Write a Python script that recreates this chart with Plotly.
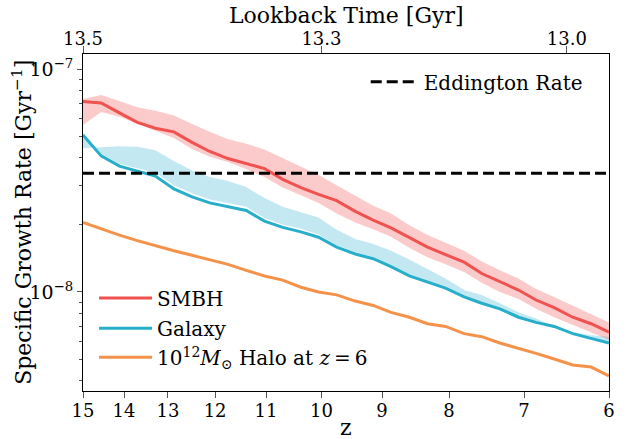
import numpy as np
import plotly.graph_objects as go

# redshift grid
z = [15.00, 14.55, 14.11, 13.69, 13.28, 12.87, 12.48, 12.11, 11.74, 11.38,
     11.03, 10.69, 10.36, 10.05, 9.74, 9.43, 9.14, 8.86, 8.58, 8.31,
     8.05, 7.79, 7.55, 7.31, 7.07, 6.85, 6.63, 6.41, 6.20, 6.00]

# specific growth rates in units of 1e-8 Gyr^-1
smbh = [7.15, 7.05, 6.36, 5.77, 5.43, 5.23, 4.69, 4.27, 3.97, 3.78,
        3.58, 3.20, 2.94, 2.74, 2.57, 2.30, 2.10, 1.94, 1.75, 1.59,
        1.47, 1.36, 1.21, 1.11, 1.02, 0.92, 0.85, 0.77, 0.72, 0.66]
smbh_hi = [7.35, 7.66, 7.20, 6.74, 6.50, 6.20, 5.68, 5.23, 4.85, 4.62,
           4.36, 3.99, 3.64, 3.35, 3.01, 2.70, 2.44, 2.25, 1.99, 1.80,
           1.66, 1.53, 1.37, 1.25, 1.15, 1.03, 0.95, 0.87, 0.80, 0.73]
smbh_lo = [5.62, 6.43, 6.11, 5.68, 5.28, 4.91, 4.38, 4.04, 3.83, 3.56,
           3.28, 2.94, 2.72, 2.51, 2.25, 2.05, 1.91, 1.77, 1.58, 1.43,
           1.33, 1.23, 1.10, 1.00, 0.93, 0.84, 0.77, 0.71, 0.66, 0.61]

galaxy = [5.07, 4.08, 3.67, 3.49, 3.31, 2.90, 2.67, 2.51, 2.42, 2.32,
          2.08, 1.95, 1.86, 1.76, 1.59, 1.48, 1.41, 1.30, 1.18, 1.11,
          1.04, 0.95, 0.89, 0.84, 0.77, 0.73, 0.70, 0.65, 0.62, 0.59]
galaxy_hi = [4.42, 4.47, 4.51, 4.48, 4.32, 3.87, 3.51, 3.28, 3.15, 2.96,
             2.64, 2.41, 2.27, 2.16, 1.90, 1.73, 1.64, 1.53, 1.40, 1.27,
             1.15, 1.02, 0.97, 0.89, 0.81, 0.76, 0.70, 0.66, 0.64, 0.63]
galaxy_lo = [4.96, 4.16, 3.75, 3.58, 3.44, 3.01, 2.77, 2.60, 2.51, 2.41,
             2.15, 2.01, 1.92, 1.81, 1.62, 1.51, 1.43, 1.32, 1.20, 1.12,
             1.06, 0.96, 0.90, 0.85, 0.78, 0.74, 0.71, 0.65, 0.63, 0.59]

halo = [2.05, 1.92, 1.80, 1.70, 1.61, 1.53, 1.46, 1.39, 1.33, 1.25,
        1.18, 1.13, 1.05, 1.00, 0.97, 0.91, 0.87, 0.81, 0.77, 0.72,
        0.70, 0.65, 0.63, 0.59, 0.56, 0.53, 0.50, 0.47, 0.46, 0.42]

eddington = 3.41  # 1e-8 Gyr^-1

z_ticks = [15, 14, 13, 12, 11, 10, 9, 8, 7, 6]
lookback_labels = ["13.5", "13.3", "13.0"]
lookback_z = [15.0, 10.0, 6.48]

UNIT = 1e-8
RED = "#EF524F"
BLUE = "#27AECB"
ORANGE = "#F5924A"
FONT = "DejaVu Serif"

zp1 = np.array(z) + 1.0
s = lambda a: np.array(a) * UNIT

fig = go.Figure()


def band(lo, hi, color):
    fig.add_trace(go.Scatter(x=zp1, y=s(lo), mode="lines", line=dict(width=0),
                             showlegend=False, hoverinfo="skip"))
    fig.add_trace(go.Scatter(x=zp1, y=s(hi), mode="lines", line=dict(width=0),
                             fill="tonexty", fillcolor=color,
                             showlegend=False, hoverinfo="skip"))


band(galaxy_lo, galaxy_hi, "rgba(39,174,203,0.28)")
band(smbh_lo, smbh_hi, "rgba(239,82,79,0.30)")

fig.add_trace(go.Scatter(x=zp1, y=s(smbh), mode="lines", name="SMBH",
                         line=dict(color=RED, width=3), legend="legend"))
fig.add_trace(go.Scatter(x=zp1, y=s(galaxy), mode="lines", name="Galaxy",
                         line=dict(color=BLUE, width=3), legend="legend3"))
fig.add_trace(go.Scatter(x=zp1, y=s(halo), mode="lines",
                         name="10<sup>12</sup><i>M</i><sub>⊙</sub> Halo at <i>z</i>\u2009=\u20096",
                         line=dict(color=ORANGE, width=3), legend="legend4"))
fig.add_trace(go.Scatter(x=[1 + z[0], 1 + z[-1]], y=s([eddington, eddington]),
                         mode="lines", name="Eddington Rate", xaxis="x2",
                         line=dict(color="black", width=3, dash="11px,5px"),
                         legend="legend2"))

xr = [np.log10(1 + z[0]), np.log10(1 + z[-1])]
axis_common = dict(showline=True, linecolor="black", linewidth=1,
                   showgrid=False, zeroline=False, ticks="outside",
                   automargin=False, tickcolor="#555")
TICK_FONT = dict(family=FONT, size=18, color="black")
TITLE_FONT = dict(family=FONT, size=22, color="black")
LEG_FONT = dict(family=FONT, size=20, color="black")

minor_vals = [m * 10.0 ** e for e in (-9, -8) for m in range(2, 10)]


def leg(x, y, iw):
    return dict(x=x, y=y, xanchor="left", yanchor="middle",
                bgcolor="rgba(0,0,0,0)", itemwidth=iw, font=LEG_FONT)


fig.update_layout(
    width=633, height=439,
    margin=dict(l=82.7, r=23.7, t=54.3, b=48.3, pad=0),
    plot_bgcolor="white", paper_bgcolor="white",
    font=dict(family=FONT, size=18, color="black"),
    xaxis=dict(type="log", range=xr, tickmode="array",
               tickvals=[1 + t for t in z_ticks], ticktext=[str(t) for t in z_ticks],
               ticklen=6, ticklabelstandoff=-3, tickfont=TICK_FONT, **axis_common),
    xaxis2=dict(type="log", range=xr, overlaying="x", side="top", anchor="y",
                tickmode="array", tickvals=[1 + t for t in lookback_z],
                ticktext=lookback_labels, ticklen=7, ticklabelstandoff=-6,
                tickfont=TICK_FONT, **axis_common),
    yaxis=dict(type="log", range=[-8.4446, -6.932], tickmode="array",
               tickvals=[1e-8, 1e-7], ticktext=["10<sup>\u22128</sup>", "10<sup>\u22127</sup>"],
               ticklen=5, mirror=True, tickfont=dict(family=FONT, size=19, color="black"),
               minor=dict(ticks="outside", ticklen=3, tickcolor="#555",
                          tickmode="array", tickvals=minor_vals, showgrid=False),
               **axis_common),
    legend=leg(0.021, 0.2756, 53),
    legend3=leg(0.021, 0.1864, 53),
    legend4=leg(0.021, 0.1002, 53),
    legend2=leg(0.5375, 0.9177, 48),
    showlegend=True,
    annotations=[
        dict(text="Lookback Time [Gyr]", xref="paper", yref="paper", x=0.5, y=1.1139,
             xanchor="center", yanchor="middle", showarrow=False, font=TITLE_FONT),
        dict(text="z", xref="paper", yref="paper", x=0.5, y=-0.1079,
             xanchor="center", yanchor="middle", showarrow=False, font=TITLE_FONT),
        dict(text="Specific Growth Rate [Gyr<sup>−1</sup>]", xref="paper", yref="paper",
             x=-0.1172, y=0.5, xanchor="center", yanchor="middle", textangle=-90,
             showarrow=False, font=TITLE_FONT),
    ],
)

fig.write_html("out.html", config={"displayModeBar": False},
               post_script="document.body.style.margin='0';document.body.style.padding='0';")
